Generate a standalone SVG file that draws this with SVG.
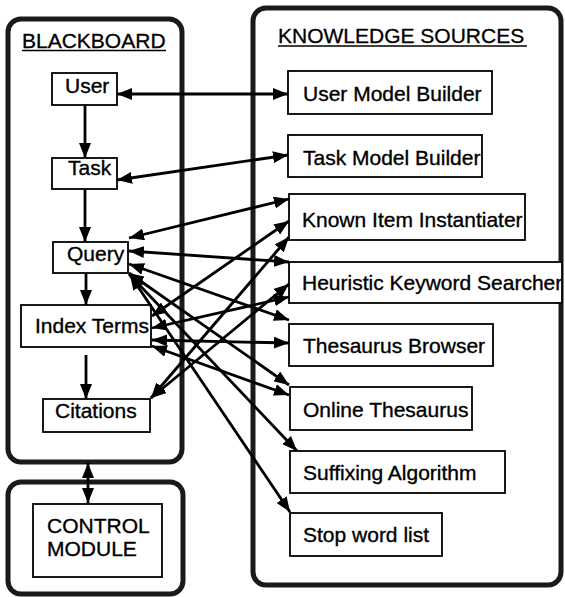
<svg xmlns="http://www.w3.org/2000/svg" width="565" height="597" viewBox="0 0 565 597">
<defs>
<marker id="ah" viewBox="0 0 15 12" markerWidth="15" markerHeight="12" refX="15" refY="6" orient="auto-start-reverse" markerUnits="userSpaceOnUse">
<path d="M0,0 L15,6 L0,12 z" fill="#000"/>
</marker>
<style>
.cont{fill:none;stroke:#1a1a1a;stroke-width:5}
.box{fill:#fff;stroke:#000;stroke-width:1.8}
.lbl{font-family:"Liberation Sans",Arial,Helvetica,sans-serif;font-size:21px;fill:#000;stroke:#000;stroke-width:0.35}
.hdr{font-family:"Liberation Sans",Arial,Helvetica,sans-serif;font-size:21px;fill:#000;stroke:#000;stroke-width:0.3}
.ul{stroke:#000;stroke-width:1.6}
.one{stroke:#000;stroke-width:2.8;fill:none;marker-end:url(#ah)}
.two{stroke:#000;stroke-width:2.8;fill:none;marker-start:url(#ah);marker-end:url(#ah)}
</style>
</defs>
<rect width="565" height="597" fill="#fff"/>

<g id="blackboard">
<rect class="cont" x="8" y="19" width="174" height="443" rx="13"/>
<text class="hdr" x="22" y="48">BLACKBOARD</text>
<line class="ul" x1="22" y1="50.5" x2="166" y2="50.5"/>
</g>

<g id="control">
<rect class="cont" x="8" y="482" width="175" height="112" rx="13"/>
<rect class="box" x="33" y="504" width="129" height="73"/>
<text class="lbl" x="47" y="533" font-size="20">CONTROL</text>
<text class="lbl" x="47" y="556" font-size="20">MODULE</text>
</g>

<g id="knowledge-sources">
<rect class="cont" x="253" y="8" width="308" height="577" rx="13"/>
<text class="hdr" x="278" y="43">KNOWLEDGE SOURCES</text>
<line class="ul" x1="278" y1="46" x2="527" y2="46"/>
</g>

<g id="user"><rect class="box" x="52" y="73" width="65" height="32"/><text class="lbl" x="65" y="93">User</text></g>
<g id="task"><rect class="box" x="52" y="158" width="65" height="31"/><text class="lbl" x="68" y="175">Task</text></g>
<g id="query"><rect class="box" x="53" y="242" width="75" height="31"/><text class="lbl" x="67" y="261">Query</text></g>
<g id="index-terms"><rect class="box" x="21" y="305" width="130" height="42"/><text class="lbl" x="35" y="333">Index Terms</text></g>
<g id="citations"><rect class="box" x="43" y="399" width="107" height="33"/><text class="lbl" x="55" y="418">Citations</text></g>

<g id="user-model-builder"><rect class="box" x="288" y="71" width="204" height="43"/><text class="lbl" x="303" y="101">User Model Builder</text></g>
<g id="task-model-builder"><rect class="box" x="288" y="135" width="194" height="42"/><text class="lbl" x="303" y="165">Task Model Builder</text></g>
<g id="known-item-instantiater"><rect class="box" x="289" y="194" width="236" height="46"/><text class="lbl" x="302" y="227">Known Item Instantiater</text></g>
<g id="heuristic-keyword-searcher"><rect class="box" x="289" y="262" width="273" height="41"/><text class="lbl" x="302" y="290">Heuristic Keyword Searcher</text></g>
<g id="thesaurus-browser"><rect class="box" x="289" y="324" width="204" height="42"/><text class="lbl" x="303" y="353">Thesaurus Browser</text></g>
<g id="online-thesaurus"><rect class="box" x="290" y="387" width="182" height="43"/><text class="lbl" x="303" y="417">Online Thesaurus</text></g>
<g id="suffixing-algorithm"><rect class="box" x="290" y="451" width="215" height="42"/><text class="lbl" x="303" y="480">Suffixing  Algorithm</text></g>
<g id="stop-word-list"><rect class="box" x="290" y="513" width="152" height="43"/><text class="lbl" x="303" y="542">Stop word list</text></g>

<g id="connectors">
<line class="one" x1="85" y1="105" x2="85" y2="158"/>
<line class="one" x1="85" y1="189" x2="85" y2="242"/>
<line class="one" x1="86" y1="273" x2="86" y2="305"/>
<line class="one" x1="86" y1="355" x2="86" y2="399"/>
<line class="two" x1="88" y1="463" x2="88" y2="503"/>
<line class="two" x1="117" y1="94" x2="288" y2="94"/>
<line class="two" x1="117" y1="180" x2="288" y2="155"/>

<line class="two" x1="129" y1="238" x2="289" y2="199"/>
<line class="two" x1="129" y1="251" x2="289" y2="262"/>
<line class="two" x1="129" y1="264" x2="289" y2="320"/>
<line class="two" x1="129" y1="273" x2="289" y2="385"/>
<line class="two" x1="129" y1="274" x2="297" y2="451"/>
<line class="two" x1="130" y1="275" x2="290" y2="512"/>

<line class="two" x1="152" y1="316" x2="289" y2="221"/>
<line class="two" x1="152" y1="328" x2="289" y2="297"/>
<line class="two" x1="152" y1="340" x2="289" y2="343"/>
<line class="two" x1="152" y1="346" x2="289" y2="395"/>

<line class="two" x1="151" y1="398" x2="289" y2="237"/>
<line class="two" x1="151" y1="398" x2="289" y2="284"/>
</g>
</svg>
